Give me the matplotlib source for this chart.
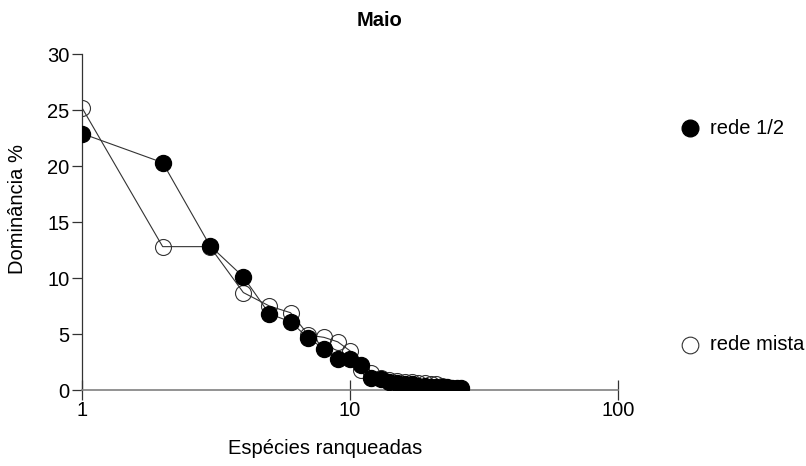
import numpy as np
import matplotlib.pyplot as plt

plt.rcParams['font.family'] = ['Liberation Sans', 'DejaVu Sans']

# dados (dominância % por espécie ranqueada)
rede_12 = [22.9, 20.3, 12.9, 10.1, 6.8, 6.1, 4.6, 3.7, 2.8, 2.8, 2.2, 1.1, 1.0,
           0.7, 0.6, 0.5, 0.5, 0.4, 0.4, 0.3, 0.3, 0.3, 0.3, 0.2, 0.2, 0.2]
rede_mista = [25.2, 12.8, 12.8, 8.7, 7.5, 6.9, 4.9, 4.7, 4.3, 3.5, 1.8, 1.5, 1.1,
              0.9, 0.8, 0.7, 0.7, 0.6, 0.6, 0.5, 0.5, 0.4]
rank_12 = np.arange(1, len(rede_12) + 1)
rank_mista = np.arange(1, len(rede_mista) + 1)

fs = 14.5

fig = plt.figure(figsize=(8.06, 4.66), dpi=100)
ax = fig.add_axes([82/806, 76/466, 536/806, 336/466])

ax.plot(rank_mista, rede_mista, color='#333333', lw=0.8, marker='o', ms=11.5,
        mfc='none', mec='#333333', mew=0.8, zorder=2)
ax.plot(rank_12, rede_12, color='#333333', lw=0.8, marker='o', ms=11.5,
        mfc='black', mec='black', zorder=3)

ax.set_xscale('log')
ax.set_xlim(1, 100)
ax.set_ylim(0, 30)
ax.set_xticks([1, 10, 100])
ax.set_xticklabels(['1', '10', '100'])
ax.xaxis.set_minor_locator(plt.NullLocator())
ax.set_yticks([0, 5, 10, 15, 20, 25, 30])

for s in ['top', 'right']:
    ax.spines[s].set_visible(False)
ax.spines['left'].set_color('#333333')
ax.spines['bottom'].set_color('#808080')
ax.spines['left'].set_linewidth(0.9)
ax.spines['bottom'].set_linewidth(1.2)

ax.tick_params(axis='y', direction='out', length=7, width=0.9, color='#333333',
               labelsize=fs, pad=2)
ax.tick_params(axis='x', direction='inout', length=14, width=0.9, color='#333333',
               labelsize=fs, pad=1)

# rótulos dos eixos e título
fig.text(18/806, 1 - 209/466, 'Dominância %', fontsize=fs, rotation=90,
         ha='center', va='center')
fig.text(325/806, 1 - 448/466, 'Espécies ranqueadas', fontsize=fs,
         ha='center', va='center')
fig.text(380/806, 1 - 20/466, 'Maio', fontsize=fs, fontweight='bold',
         ha='center', va='center')

# legenda à direita
fig.lines.append(plt.Line2D([690/806], [1 - 128/466], marker='o', ms=12,
                            mfc='black', mec='black', transform=fig.transFigure))
fig.text(710/806, 1 - 128/466, 'rede 1/2', fontsize=fs, va='center')
fig.lines.append(plt.Line2D([690/806], [1 - 345/466], marker='o', ms=12,
                            mfc='none', mec='#333333', mew=0.8,
                            transform=fig.transFigure))
fig.text(710/806, 1 - 345/466, 'rede mista', fontsize=fs, va='center')

fig.savefig('out.png', dpi=100)
